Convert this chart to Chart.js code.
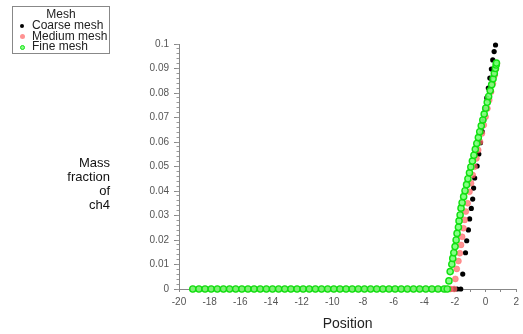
<!DOCTYPE html>
<html>
<head>
<meta charset="utf-8">
<script src="https://cdn.jsdelivr.net/npm/chart.js@4.4.1/dist/chart.umd.min.js"></script>
<style>
  html, body { margin: 0; padding: 0; background: #fff; }
  #wrap { position: relative; width: 523px; height: 334px; font-family: "Liberation Sans", Arial, sans-serif; color: #222; }
  #chart { position: absolute; left: 0; top: 0; }
  #legend { position: absolute; left: 12px; top: 6px; width: 96px; height: 46px; border: 1px solid #888; font-size: 12px; }
  #legend .title { position: absolute; left: 0; width: 96px; top: 1px; text-align: center; line-height: 12px; }
  #legend .row { position: absolute; left: 0; line-height: 11px; white-space: nowrap; }
  #legend .mark { position: absolute; box-sizing: border-box; border-radius: 50%; }
  #legend .txt { position: absolute; left: 19px; top: 0; }
  #ytitle { position: absolute; left: 0; width: 110px; top: 156px; text-align: right; font-size: 13px; line-height: 14px; color: #111; }
</style>
</head>
<body>
<div id="wrap">
  <canvas id="chart" width="523" height="334"></canvas>
  <div id="legend"></div>
  <div id="ytitle">Mass<br>fraction<br>of<br>ch4</div>
</div>
<script>
const seriesNames = ['Coarse mesh', 'Medium mesh', 'Fine mesh'];
const legendTitle = 'Mesh';
const xTitle = 'Position';

// points lying on the zero line (shared by all meshes)
const flatX = [-19.1, -18.7, -18.3, -17.9, -17.5, -17.1, -16.7, -16.3, -15.9, -15.5, -15.1,
  -14.7, -14.3, -13.9, -13.5, -13.1, -12.7, -12.3, -11.9, -11.5, -11.1, -10.7, -10.3,
  -9.9, -9.5, -9.1, -8.7, -8.3, -7.9, -7.5, -7.1, -6.7, -6.3, -5.9, -5.5, -5.1, -4.7,
  -4.3, -3.9, -3.5, -3.1, -2.7, -2.5];

// extra zero points where each mesh leaves the axis
const coarseFlatX = [-2.3, -2.05, -1.85, -1.62];
const mediumFlatX = [-2.3, -2.05];
const fineFlatX = [];

// rising part
const coarseX = [-1.49, -1.31, -1.23, -1.12, -1.04, -0.93, -0.84, -0.78, -0.71, -0.55, -0.44,
  -0.33, -0.22, -0.12, -0.02, 0.08, 0.18, 0.28, 0.38, 0.47, 0.56, 0.65];
const coarseY = [0.0061, 0.0148, 0.0197, 0.0241, 0.0286, 0.0329, 0.0367, 0.0412, 0.0453, 0.0502, 0.0551,
  0.0597, 0.0642, 0.0690, 0.0735, 0.0780, 0.0820, 0.0861, 0.0898, 0.0935, 0.0969, 0.0996];

const mediumX = [-1.97, -1.88, -1.77, -1.68, -1.60, -1.53, -1.44, -1.36, -1.29, -1.17, -1.05,
  -0.95, -0.84, -0.72, -0.60, -0.48, -0.36, -0.24, -0.12, 0.00, 0.12, 0.24, 0.36, 0.48,
  0.59, 0.68, 0.74];
const mediumY = [0.0041, 0.0082, 0.0114, 0.0146, 0.0180, 0.0213, 0.0248, 0.0282, 0.0316, 0.0350, 0.0397,
  0.0432, 0.0465, 0.0499, 0.0533, 0.0567, 0.0601, 0.0635, 0.0669, 0.0703, 0.0737, 0.0771, 0.0805, 0.0839,
  0.0872, 0.0898, 0.0920];

const fineX = [-2.39, -2.31, -2.20, -2.14, -2.07, -1.99, -1.92, -1.86, -1.77, -1.73, -1.66, -1.60,
  -1.53, -1.43, -1.34, -1.24, -1.15, -1.05, -0.96, -0.86, -0.76, -0.67, -0.57, -0.47, -0.38,
  -0.28, -0.18, -0.09, 0.01, 0.11, 0.20, 0.30, 0.40, 0.49, 0.57, 0.64, 0.69, 0.71];
const fineY = [0.0033, 0.0071, 0.0101, 0.0125, 0.0148, 0.0173, 0.0200, 0.0227, 0.0252, 0.0278, 0.0302, 0.0330,
  0.0352, 0.0377, 0.0401, 0.0426, 0.0450, 0.0474, 0.0498, 0.0522, 0.0546, 0.0570, 0.0594, 0.0618, 0.0642,
  0.0666, 0.0690, 0.0714, 0.0738, 0.0762, 0.0786, 0.0810, 0.0834, 0.0858, 0.0880, 0.0900, 0.0914, 0.0922];

function points(extraFlat, xs, ys) {
  const flat = flatX.concat(extraFlat).map(x => ({ x: x, y: 0 }));
  return flat.concat(xs.map((x, i) => ({ x: x, y: ys[i] })));
}

const styles = [
  { bg: '#000000', border: '#000000', bw: 0, r: 2.6 },
  { bg: 'rgba(255,110,110,0.75)', border: 'rgba(255,90,90,0.8)', bw: 0.5, r: 3 },
  { bg: 'rgba(120,255,120,0.9)', border: '#10e010', bw: 1.4, r: 3.1 }
];

const datasets = [
  points(coarseFlatX, coarseX, coarseY),
  points(mediumFlatX, mediumX, mediumY),
  points(fineFlatX, fineX, fineY)
].map((d, i) => ({
  label: seriesNames[i],
  data: d,
  showLine: false,
  clip: false,
  order: 2 - i,
  pointRadius: styles[i].r,
  pointBackgroundColor: styles[i].bg,
  pointBorderColor: styles[i].border,
  pointBorderWidth: styles[i].bw
}));

// legend box
const legend = document.getElementById('legend');
legend.innerHTML = '<div class="title">' + legendTitle + '</div>';
seriesNames.forEach((name, i) => {
  const row = document.createElement('div');
  row.className = 'row';
  row.style.top = (13 + i * 10.5) + 'px';
  const m = document.createElement('span');
  m.className = 'mark';
  const s = i === 0 ? 4 : 5;
  m.style.width = s + 'px';
  m.style.height = s + 'px';
  m.style.left = (9 - s / 2) + 'px';
  m.style.top = (6 - s / 2) + 'px';
  m.style.background = styles[i].bg;
  if (i === 2) m.style.border = '1.3px solid #10e010';
  const t = document.createElement('span');
  t.className = 'txt';
  t.textContent = name;
  row.appendChild(m);
  row.appendChild(t);
  legend.appendChild(row);
});

new Chart(document.getElementById('chart'), {
  type: 'scatter',
  data: { datasets: datasets },
  options: {
    responsive: false,
    animation: false,
    layout: { padding: { top: 44, right: 4, left: 0, bottom: 0 } },
    plugins: { legend: { display: false }, tooltip: { enabled: false } },
    scales: {
      x: {
        type: 'linear',
        min: -20,
        max: 2,
        afterFit: s => { s.height = 45; },
        border: { color: '#888', width: 1 },
        grid: { drawOnChartArea: false, tickLength: 3, color: '#888' },
        ticks: {
          stepSize: 1,
          autoSkip: false,
          maxRotation: 0,
          padding: 4,
          color: '#555',
          font: { family: 'Liberation Sans', size: 10 },
          callback: v => (v % 2 === 0 ? String(v) : '')
        },
        title: {
          display: true,
          text: xTitle,
          color: '#222',
          font: { family: 'Liberation Sans', size: 14 },
          padding: { top: 0, bottom: 1 }
        }
      },
      y: {
        type: 'linear',
        position: 'left',
        weight: 1,
        min: 0,
        max: 0.1,
        afterFit: s => { s.width = 179; },
        border: { color: '#888', width: 1 },
        grid: { drawOnChartArea: false, tickLength: 5, color: '#888' },
        ticks: {
          stepSize: 0.01,
          padding: 5,
          color: '#555',
          font: { family: 'Liberation Sans', size: 10 },
          callback: v => String(+v.toFixed(2))
        }
      },
      yMinor: {
        type: 'linear',
        position: 'left',
        weight: 0,
        min: 0,
        max: 0.1,
        afterFit: s => { s.width = 0; },
        border: { display: false },
        grid: { drawOnChartArea: false, tickLength: 2.5, color: '#999' },
        ticks: { stepSize: 0.002, display: false, autoSkip: false }
      }
    }
  }
});
</script>
</body>
</html>
